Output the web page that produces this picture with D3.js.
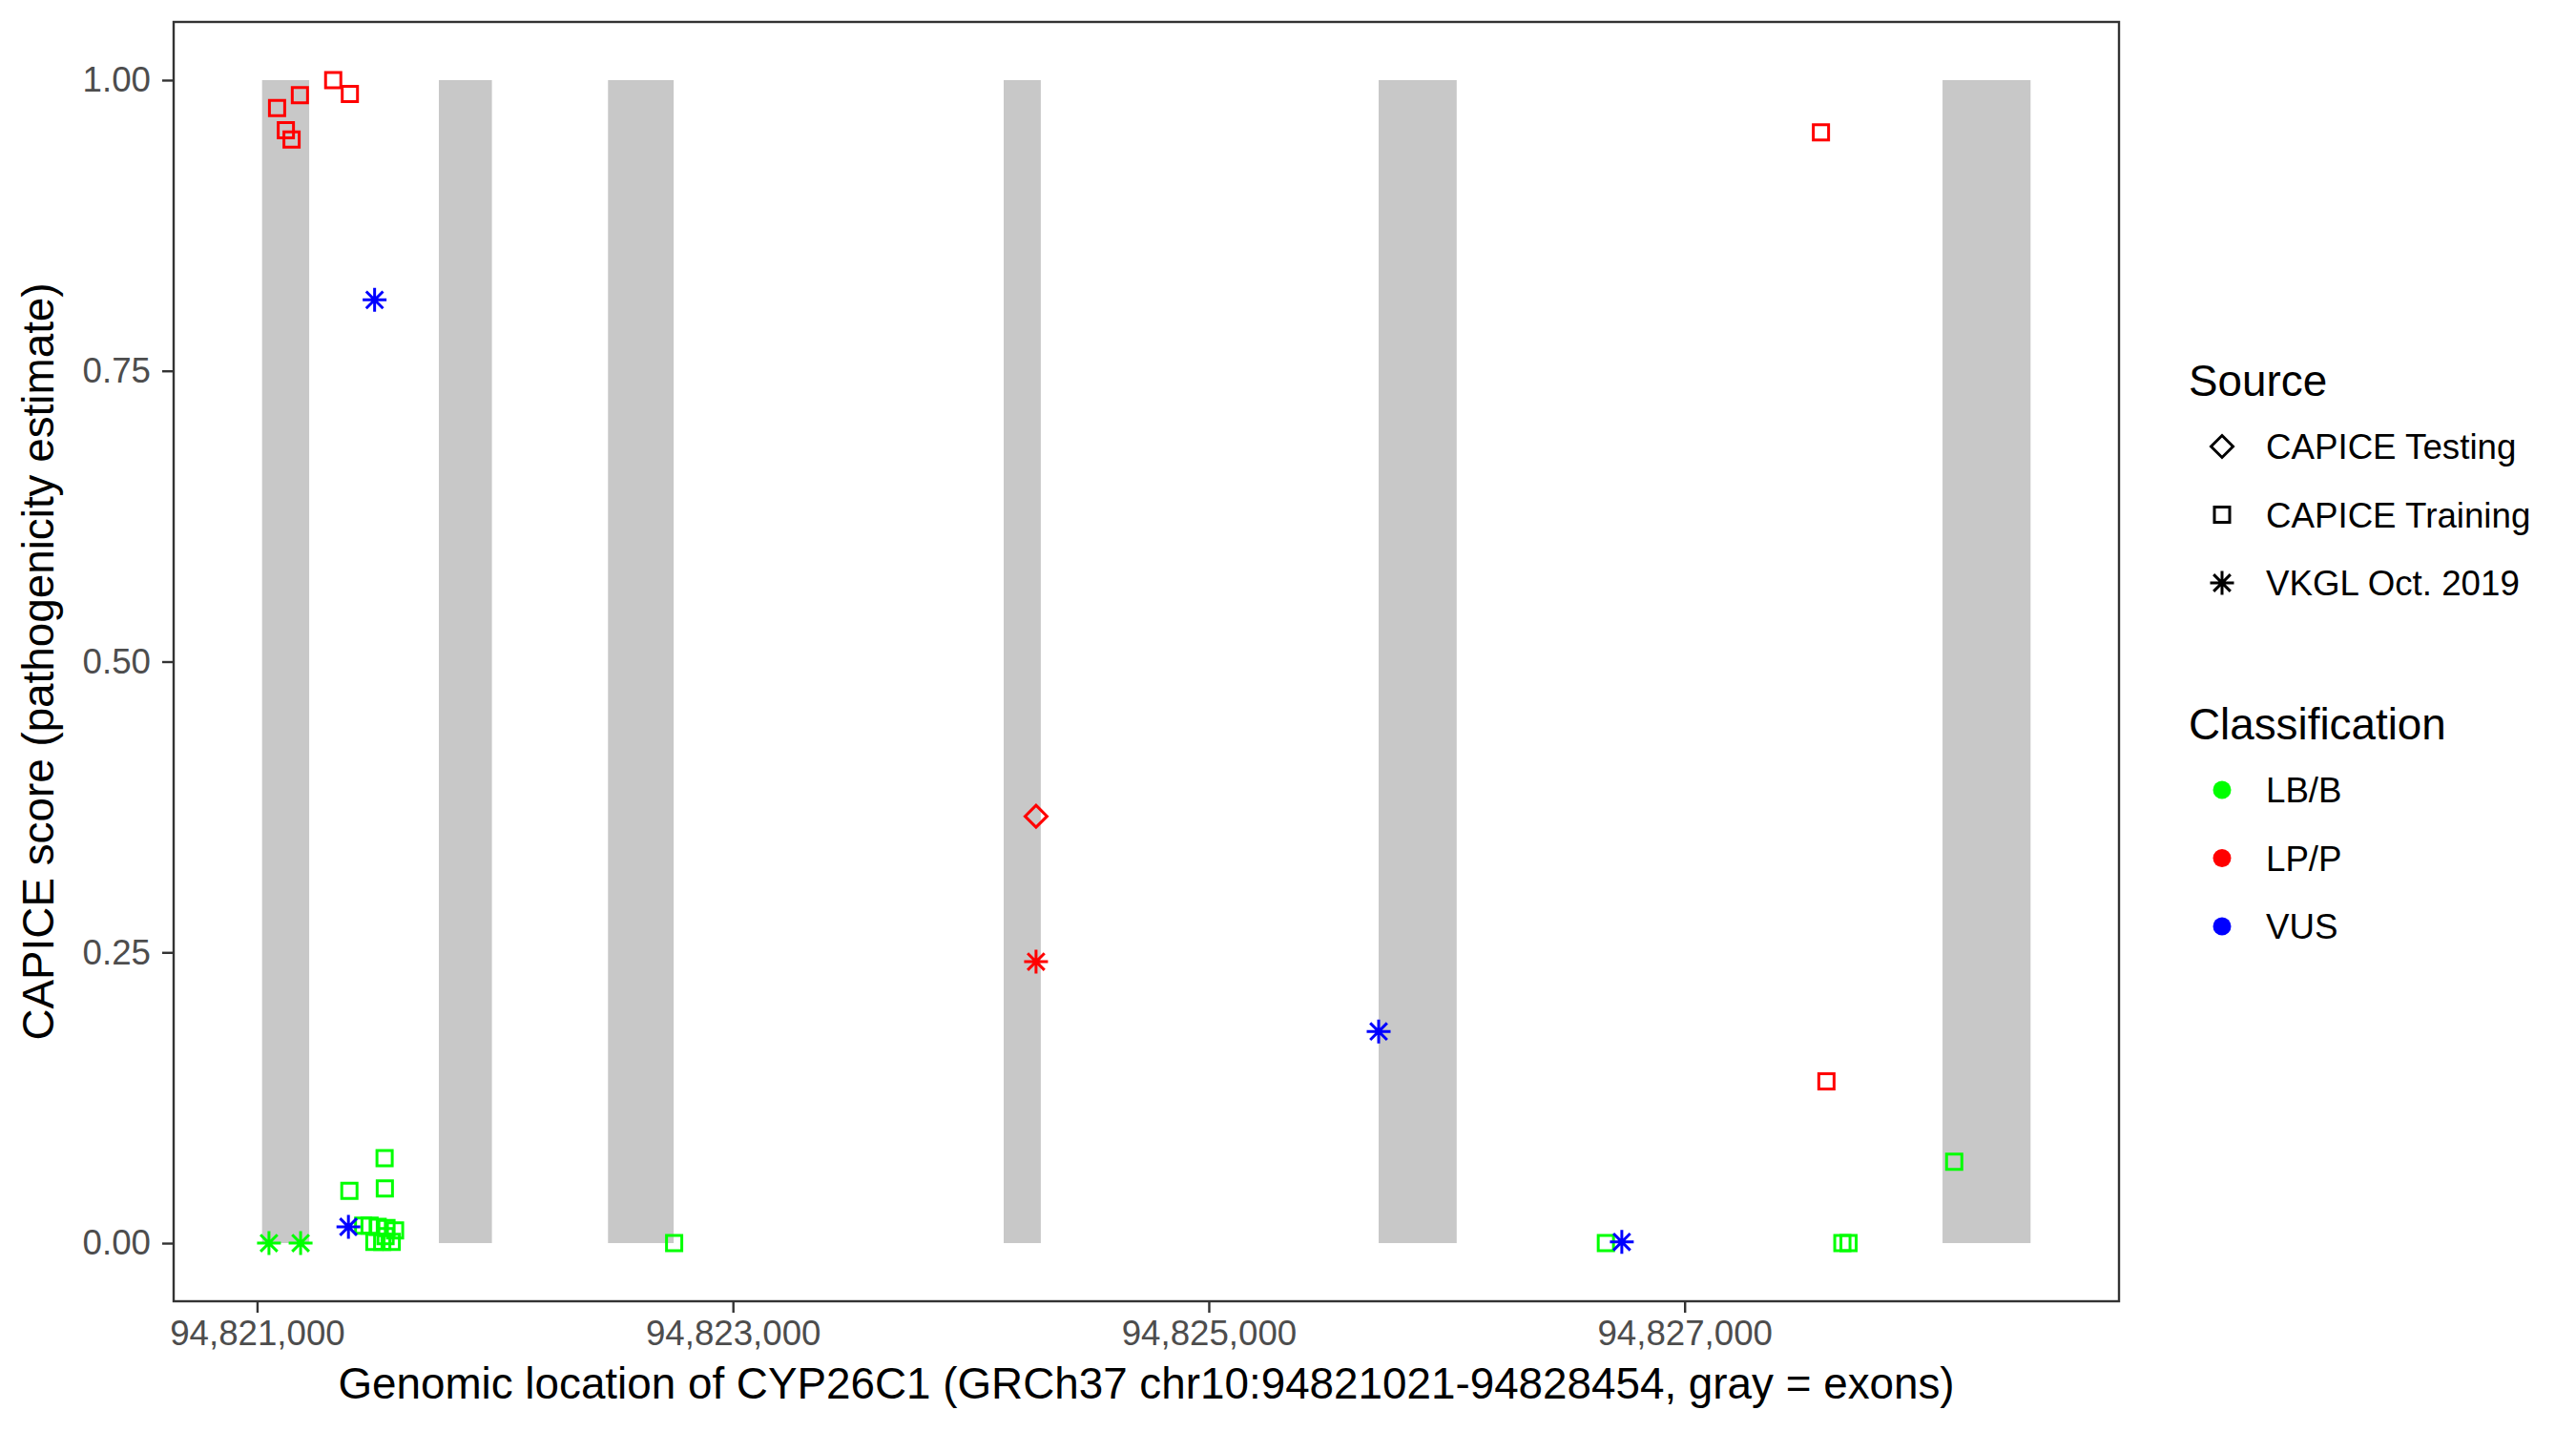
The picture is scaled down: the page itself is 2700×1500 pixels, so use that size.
<!DOCTYPE html>
<html>
<head>
<meta charset="utf-8">
<script src="https://cdn.jsdelivr.net/npm/d3@7"></script>
<style>
  body { margin: 0; background: #fff; }
  svg text { font-family: "Liberation Sans", Arial, sans-serif; }
</style>
</head>
<body>
<svg width="2700" height="1500"></svg>
<script>
// gene + exons (gray bars)
const geneStart = 94821021, geneEnd = 94828454;
const exonStart = [94821021, 94821764, 94822475, 94824138, 94825714, 94828084];
const exonEnd   = [94821219, 94821987, 94822751, 94824294, 94826042, 94828454];

// CAPICE Training, LP/P
const trainingLpPos   = [94821084, 94821121, 94821145, 94821180, 94821320, 94821390, 94827573, 94827596];
const trainingLpScore = [0.976, 0.957, 0.949, 0.987, 1.000, 0.988, 0.955, 0.139];
// CAPICE Training, LB/B
const trainingLbPos   = [94821388, 94821536, 94821537, 94821446, 94821473, 94821507, 94821544, 94821580,
                         94821493, 94821526, 94821566, 94821540, 94822753, 94826669, 94827663, 94827689, 94828133];
const trainingLbScore = [0.045, 0.073, 0.047, 0.015, 0.015, 0.014, 0.013, 0.011,
                         0.001, 0.001, 0.001, 0.006, 0.000, 0.000, 0.000, 0.000, 0.070];
// CAPICE Testing, LP/P
const testingLpPos   = [94824274];
const testingLpScore = [0.367];
// VKGL Oct. 2019
const vkglLbPos    = [94821050, 94821183];
const vkglLbScore  = [0.000, 0.000];
const vkglLpPos    = [94824274];
const vkglLpScore  = [0.242];
const vkglVusPos   = [94821384, 94821494, 94825714, 94826736];
const vkglVusScore = [0.014, 0.811, 0.182, 0.001];

const sources = ["CAPICE Testing", "CAPICE Training", "VKGL Oct. 2019"];
const classes = ["LB/B", "LP/P", "VUS"];
const classColors = ["#00FF00", "#FF0000", "#0000FF"];
const xTicks = [94821000, 94823000, 94825000, 94827000];
const yTicks = [0, 0.25, 0.5, 0.75, 1];

// build rows
let points = [];
function addSeries(pos, score, source, cls) {
    for (let i = 0; i < pos.length; i++) {
        points.push({pos: pos[i], score: score[i], source: source, cls: cls});
    }
}
addSeries(trainingLpPos, trainingLpScore, "CAPICE Training", "LP/P");
addSeries(trainingLbPos, trainingLbScore, "CAPICE Training", "LB/B");
addSeries(testingLpPos, testingLpScore, "CAPICE Testing", "LP/P");
addSeries(vkglLbPos, vkglLbScore, "VKGL Oct. 2019", "LB/B");
addSeries(vkglLpPos, vkglLpScore, "VKGL Oct. 2019", "LP/P");
addSeries(vkglVusPos, vkglVusScore, "VKGL Oct. 2019", "VUS");

const svg = d3.select("svg");
const panelL = 182, panelR = 2221, panelT = 23, panelB = 1364;

const pad = (geneEnd - geneStart) * 0.05;
const x = d3.scaleLinear().domain([geneStart - pad, geneEnd + pad]).range([panelL, panelR]);
const y = d3.scaleLinear().domain([-0.05, 1.05]).range([panelB, panelT]);
const color = d3.scaleOrdinal().domain(classes).range(classColors);

// shape paths, ggplot shapes 5 / 0 / 8
function shapePath(source) {
    if (source === "CAPICE Testing") {
        const r = 11.5;
        return `M0,${-r}L${r},0L0,${r}L${-r},0Z`;
    } else if (source === "CAPICE Training") {
        const s = 8;
        return `M${-s},${-s}H${s}V${s}H${-s}Z`;
    } else {
        const a = 12.5, d = a * Math.SQRT1_2;
        return `M${-a},0H${a}M0,${-a}V${a}M${-d},${-d}L${d},${d}M${-d},${d}L${d},${-d}`;
    }
}

// exons
svg.append("g").selectAll("rect")
    .data(exonStart)
    .enter()
    .append("rect")
    .attr("x", function(d) { return x(d); })
    .attr("width", function(d, i) { return x(exonEnd[i]) - x(d); })
    .attr("y", y(1))
    .attr("height", y(0) - y(1))
    .attr("fill", "#C8C8C8");

// points
svg.append("g").selectAll("path")
    .data(points)
    .enter()
    .append("path")
    .attr("transform", function(d) { return `translate(${x(d.pos)},${y(d.score)})`; })
    .attr("d", function(d) { return shapePath(d.source); })
    .attr("fill", "none")
    .attr("stroke", function(d) { return color(d.cls); })
    .attr("stroke-width", 3);

// panel border
svg.append("rect")
    .attr("x", panelL).attr("y", panelT)
    .attr("width", panelR - panelL).attr("height", panelB - panelT)
    .attr("fill", "none")
    .attr("stroke", "#333333")
    .attr("stroke-width", 2.4);

// axes
let xAxis = svg.append("g")
    .attr("transform", `translate(0,${panelB})`)
    .call(d3.axisBottom(x).tickValues(xTicks).tickFormat(d3.format(",")).tickSize(12).tickPadding(8));
let yAxis = svg.append("g")
    .attr("transform", `translate(${panelL},0)`)
    .call(d3.axisLeft(y).tickValues(yTicks).tickFormat(d3.format(".2f")).tickSize(12).tickPadding(12));
[xAxis, yAxis].forEach(function(ax) {
    ax.select(".domain").remove();
    ax.selectAll(".tick line").attr("stroke", "#333333").attr("stroke-width", 2.4);
    ax.selectAll(".tick text")
        .attr("fill", "#4D4D4D")
        .attr("font-size", "36.7px")
        .attr("font-family", "Liberation Sans, Arial, sans-serif");
});

// axis titles
svg.append("text")
    .attr("x", (panelL + panelR) / 2)
    .attr("y", 1466)
    .attr("text-anchor", "middle")
    .attr("font-size", "45.8px")
    .text("Genomic location of CYP26C1 (GRCh37 chr10:94821021-94828454, gray = exons)");
svg.append("text")
    .attr("transform", `translate(56,${(panelT + panelB) / 2}) rotate(-90)`)
    .attr("text-anchor", "middle")
    .attr("font-size", "45.8px")
    .text("CAPICE score (pathogenicity estimate)");

// legends
const legX = 2294, keyX = 2329, labX = 2375;
svg.append("text").attr("x", legX).attr("y", 415).attr("font-size", "45.8px").text("Source");
let srcKeys = svg.append("g").selectAll("g")
    .data(sources)
    .enter()
    .append("g")
    .attr("transform", function(d, i) { return `translate(0,${468 + i * 71.5})`; });
srcKeys.append("path")
    .attr("transform", `translate(${keyX},0)`)
    .attr("d", function(d) { return shapePath(d); })
    .attr("fill", "none")
    .attr("stroke", "black")
    .attr("stroke-width", 3);
srcKeys.append("text")
    .attr("x", labX).attr("y", 13)
    .attr("font-size", "36.7px")
    .text(function(d) { return d; });

svg.append("text").attr("x", legX).attr("y", 775).attr("font-size", "45.8px").text("Classification");
let clsKeys = svg.append("g").selectAll("g")
    .data(classes)
    .enter()
    .append("g")
    .attr("transform", function(d, i) { return `translate(0,${828 + i * 71.5})`; });
clsKeys.append("circle")
    .attr("cx", keyX).attr("cy", 0).attr("r", 9.5)
    .attr("fill", function(d) { return color(d); });
clsKeys.append("text")
    .attr("x", labX).attr("y", 13)
    .attr("font-size", "36.7px")
    .text(function(d) { return d; });
</script>
</body>
</html>
